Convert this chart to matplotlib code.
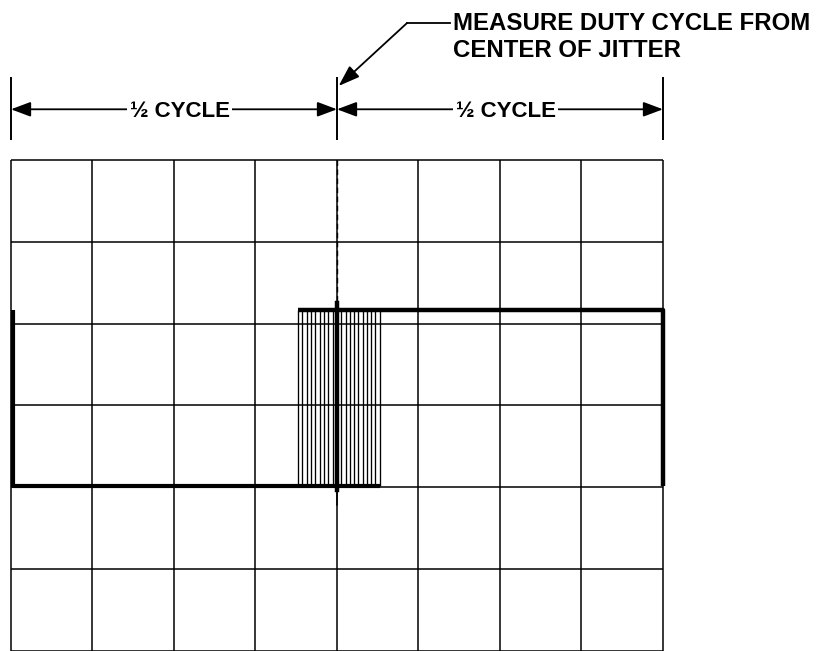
import matplotlib.pyplot as plt
import numpy as np

# graticule in divisions (y counts downward from the top line)
grid_cols = [0, 1, 2, 3, 4, 5, 6, 7, 8]
grid_rows = [0, 1, 2, 3, 4, 5, 6]

# square wave levels and edges
high_level = 1.83
low_level = 3.98
rise_left = 0.025
center_edge = 4.0
fall_right = 8.0

# jittered rising edges (traces around the centre)
jitter_edges = [3.52, 3.57, 3.63, 3.68, 3.73, 3.79, 3.84, 3.89, 3.95, 4.00,
                4.05, 4.11, 4.16, 4.21, 4.26, 4.32, 4.37, 4.42, 4.47, 4.53]

# dimension marks above the screen
dim_ticks = [0, 4, 8]
dim_labels = ['½ CYCLE', '½ CYCLE']
note_lines = ['MEASURE DUTY CYCLE FROM', 'CENTER OF JITTER']

plt.rcParams['font.family'] = ['Liberation Sans', 'DejaVu Sans']

fig = plt.figure(figsize=(8.25, 6.51), dpi=100)
ax = fig.add_axes([0, 0, 1, 1])
ax.set_xlim(-0.135, 9.988)
ax.set_ylim(6.002, -1.956)
ax.axis('off')

# grid
ax.vlines(grid_cols, grid_rows[0], grid_rows[-1], color='k', lw=1.1)
ax.hlines(grid_rows, grid_cols[0], grid_cols[-1], color='k', lw=1.1)

# jitter traces
ax.vlines(jitter_edges, high_level, low_level, color='k', lw=0.95)

# waveform
ax.plot([rise_left, rise_left, jitter_edges[-1]],
        [high_level, low_level, low_level], color='k', lw=3, solid_capstyle='butt')
ax.plot([jitter_edges[0], fall_right, fall_right],
        [high_level, high_level, low_level], color='k', lw=3.2, solid_capstyle='butt')
ax.plot([center_edge, center_edge], [high_level - 0.08, low_level + 0.05], color='k', lw=3.2)
ax.plot([center_edge, center_edge], [low_level, 4.22], color='k', lw=1.1)
ax.plot([center_edge, center_edge], [0, high_level], color='k', lw=1.0, ls=(0, (4, 2.5)))

# dimension lines
dim_y = -0.62
ax.vlines(dim_ticks, -1.015, -0.245, color='k', lw=1.4)
head = '-|>,head_length=1.2,head_width=0.45'
for i, lab in enumerate(dim_labels):
    a, b = dim_ticks[i], dim_ticks[i + 1]
    mid = (a + b) / 2 + 0.07
    for end in (a, b):
        ax.annotate('', xy=(end, dim_y), xytext=(mid, dim_y),
                    arrowprops=dict(arrowstyle=head, color='k', lw=1.3,
                                    mutation_scale=10, shrinkA=0, shrinkB=0))
    ax.text(mid, -0.53, lab, ha='center', va='baseline', fontsize=16,
            fontweight='bold',
            bbox=dict(facecolor='white', edgecolor='none', pad=2), zorder=5)

# leader note
ax.plot([4.86, 5.39], [-1.675, -1.675], color='k', lw=1.3)
ax.annotate('', xy=(4.02, -0.905), xytext=(4.86, -1.675),
            arrowprops=dict(arrowstyle='-|>,head_length=1.3,head_width=0.45',
                            color='k', lw=1.3, mutation_scale=10, shrinkA=0, shrinkB=0))
for line, yb in zip(note_lines, [-1.589, -1.259]):
    ax.text(5.42, yb, line, ha='left', va='baseline', fontsize=17.3,
            fontweight='bold')

fig.savefig('out.png', dpi=100)
